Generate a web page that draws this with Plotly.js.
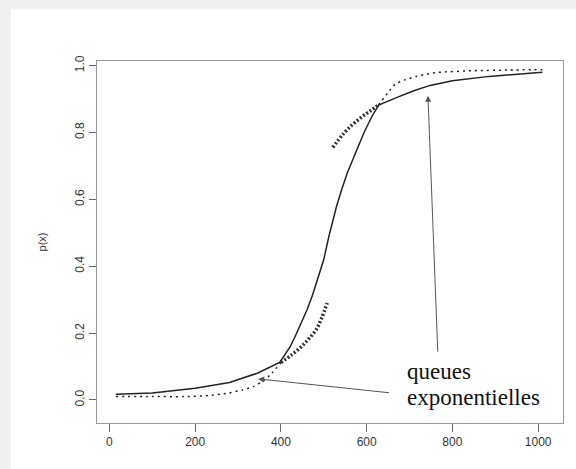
<!DOCTYPE html>
<html>
<head>
<meta charset="utf-8">
<script src="https://cdn.plot.ly/plotly-3.0.1.min.js"></script>
<style>
  html, body { margin: 0; padding: 0; background: #f0f0f0; width: 576px; height: 469px; overflow: hidden; }
  #chart { position: absolute; left: 11px; top: 9px; width: 565px; height: 460px; }
</style>
</head>
<body>
<div id="chart"></div>
<script>
// Empirical curve p(x) (solid)
const solidX = [15, 100, 200, 280, 345, 397, 409, 422, 435, 448, 461, 474, 487, 500, 512, 521, 530, 542, 555, 568, 581, 594, 611, 628, 671, 710, 748, 800, 886, 1010];
const solidY = [0.017, 0.021, 0.035, 0.052, 0.080, 0.112, 0.135, 0.160, 0.195, 0.230, 0.270, 0.315, 0.365, 0.420, 0.490, 0.540, 0.580, 0.630, 0.680, 0.720, 0.760, 0.800, 0.845, 0.882, 0.905, 0.925, 0.941, 0.955, 0.968, 0.980];

// Model curve (thin dotted): lower and upper parts
const dotLowX = [15, 100, 173, 230, 276, 310, 336, 360, 379, 400];
const dotLowY = [0.010, 0.010, 0.010, 0.013, 0.020, 0.030, 0.040, 0.058, 0.08, 0.112];
const dotUpX = [628, 650, 667, 690, 714, 740, 767, 850, 930, 1010];
const dotUpY = [0.883, 0.92, 0.945, 0.958, 0.967, 0.975, 0.980, 0.985, 0.987, 0.988];

// Exponential tails (thick dotted)
const tailLowX = [400, 425, 448, 465, 482, 495, 508];
const tailLowY = [0.112, 0.135, 0.16, 0.183, 0.21, 0.245, 0.29];
const tailUpX = [521, 545, 568, 590, 610, 628];
const tailUpY = [0.755, 0.795, 0.825, 0.848, 0.866, 0.883];

// Annotation text and arrows
const labelLines = ["queues", "exponentielles"];
const labelX = 689;
const labelY = [0.084, 0.006];
const arrowHeads = [[347, 0.063], [743, 0.91]];
const arrowTails = [[656, 0.021], [766, 0.14]];

const xTicks = [0, 200, 400, 600, 800, 1000];
const yTicks = [0.0, 0.2, 0.4, 0.6, 0.8, 1.0];
const yTickText = ["0.0", "0.2", "0.4", "0.6", "0.8", "1.0"];

const traces = [
  { x: dotLowX, y: dotLowY, mode: 'lines', line: { color: '#222', width: 1.5, dash: '2px,4px', shape: 'spline', smoothing: 0.5 }, hoverinfo: 'skip' },
  { x: dotUpX, y: dotUpY, mode: 'lines', line: { color: '#222', width: 1.5, dash: '2px,4px', shape: 'spline', smoothing: 0.5 }, hoverinfo: 'skip' },
  { x: solidX, y: solidY, mode: 'lines', line: { color: '#222', width: 1.5 }, hoverinfo: 'skip' },
  { x: tailLowX, y: tailLowY, mode: 'lines', line: { color: '#333', width: 3.5, dash: '2px,2px', shape: 'spline' }, hoverinfo: 'skip' },
  { x: tailUpX, y: tailUpY, mode: 'lines', line: { color: '#333', width: 3.5, dash: '2px,2px', shape: 'spline' }, hoverinfo: 'skip' }
];

const annotations = labelLines.map((t, i) => ({
  x: labelX, y: labelY[i], xref: 'x', yref: 'y', text: t,
  showarrow: false, xanchor: 'left', yanchor: 'middle', align: 'left',
  font: { family: 'Liberation Serif, Times New Roman, serif', size: 23, color: '#111' }
}));
for (let i = 0; i < arrowHeads.length; i++) {
  annotations.push({
    x: arrowHeads[i][0], y: arrowHeads[i][1], xref: 'x', yref: 'y',
    ax: arrowTails[i][0], ay: arrowTails[i][1], axref: 'x', ayref: 'y',
    text: '', showarrow: true, arrowhead: 2, arrowsize: 1.2, arrowwidth: 1, arrowcolor: '#555'
  });
}

const layout = {
  width: 565, height: 460,
  margin: { l: 86, r: 13, t: 52, b: 46 },
  paper_bgcolor: '#ffffff', plot_bgcolor: '#ffffff',
  showlegend: false,
  font: { family: 'Liberation Sans, Arial, sans-serif', size: 12, color: '#333' },
  xaxis: {
    range: [-29, 1058], tickvals: xTicks, ticktext: xTicks.map(String),
    showgrid: false, zeroline: false, showline: true, mirror: true,
    linecolor: '#999', linewidth: 1, ticks: 'outside', ticklen: 8, tickcolor: '#666', tickwidth: 1,
    tickfont: { size: 12, color: '#333' }
  },
  yaxis: {
    range: [-0.069, 1.014], tickvals: yTicks, ticktext: yTickText, tickangle: -90,
    showgrid: false, zeroline: false, showline: true, mirror: true,
    linecolor: '#999', linewidth: 1, ticks: 'outside', ticklen: 7, tickcolor: '#666', tickwidth: 1,
    tickfont: { size: 12, color: '#333' },
    title: { text: 'p(x)', font: { size: 11, color: '#333' }, standoff: 24 }
  },
  annotations: annotations
};

Plotly.newPlot('chart', traces, layout, { displayModeBar: false, staticPlot: true });
</script>
</body>
</html>
